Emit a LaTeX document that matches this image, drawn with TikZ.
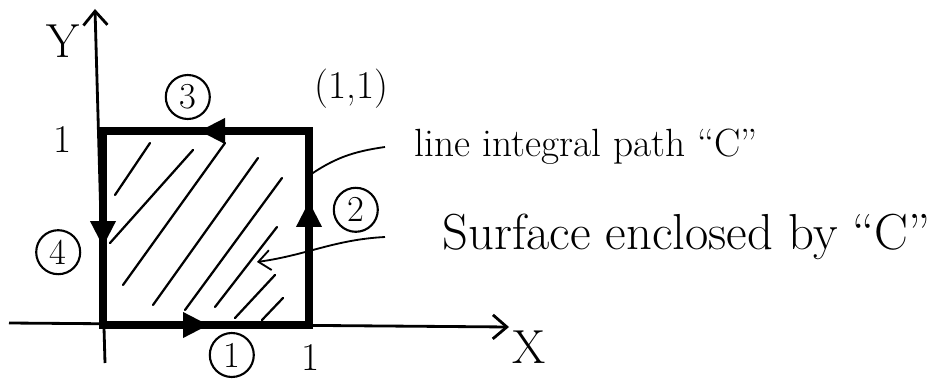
\documentclass[tikz,border=0pt]{standalone}
\usepackage{fontspec}
\usepackage{tikz}
\usetikzlibrary{arrows.meta,calc}

\begin{document}
\begin{tikzpicture}[
  axis/.style={line width=2pt, -{Straight Barb[length=3.5mm,width=6mm,line width=2pt]}},
  edge/.style={line width=5.5pt},
  edgearrow/.style={line width=5.5pt, -{Triangle[length=6.5mm,width=6mm]}},
  hatch/.style={line width=1.6pt, line cap=round},
  leader/.style={line width=1.3pt},
  lbl/.style={font=\fontsize{34}{38}\selectfont, inner sep=1pt},
  tick/.style={font=\fontsize{28}{32}\selectfont, inner sep=1pt},
  num/.style={draw, circle, line width=1.5pt, minimum size=11mm, inner sep=0pt, font=\fontsize{26}{30}\selectfont},
  note/.style={anchor=west, inner sep=1pt}
]
  \useasboundingbox (-2.575,-1.4) rectangle (21.075,8.125);
  % corners of the square
  \coordinate (O) at (0,0);
  \coordinate (A) at (5.15,0);
  \coordinate (B) at (5.15,4.85);
  \coordinate (D) at (0,4.85);
  % axes
  \coordinate (xs) at (-2.35,0.05);
  \coordinate (xe) at (10.15,-0.05);
  \coordinate (ys) at (0.05,-0.95);
  \coordinate (ye) at (-0.2,7.9);
  \draw[axis] (xs) -- (xe);
  \draw[axis] (ys) -- (ye);
  \node[lbl] (xlab) at (10.65,-0.55) {X};
  \node[lbl] (ylab) at (-1.0,7.1) {Y};
  \node[tick] (xone) at (5.2,-0.8) {1};
  \node[tick] (yone) at (-1.0,4.63) {1};
  \node[tick] (corner) at (6.22,5.92) {(1,1)};
  % hatching
  \foreach \xa/\ya/\xb/\yb in {0.3/3.25/1.175/4.55, 0.175/2.05/2.25/4.375, 0.5/1.0/3.05/4.55,
                     1.25/0.5/3.875/4.175, 2.05/0.375/4.475/3.675, 2.8/0.45/4.35/2.45,
                     3.3/0.175/4.3/1.25, 3.975/0.125/4.5/0.675}
    \draw[hatch] (\xa,\ya) -- (\xb,\yb);
  % path C
  \draw[edge, line join=miter] (O) -- (A) -- (B) -- (D) -- cycle;
  \coordinate (t1) at (2.65,0);
  \coordinate (t2) at (5.15,3.1);
  \coordinate (t3) at (2.4,4.85);
  \coordinate (t4) at (0,1.95);
  \draw[edgearrow] (O) -- (t1);
  \draw[edgearrow] (A) -- (t2);
  \draw[edgearrow] (B) -- (t3);
  \draw[edgearrow] (D) -- (t4);
  \node[num] (n1) at (3.22,-0.75) {1};
  \node[num] (n2) at (6.32,2.88) {2};
  \node[num] (n3) at (2.12,5.7) {3};
  \node[num] (n4) at (-1.12,1.82) {4};
  % notes
  \node[note, font=\fontsize{28}{32}\selectfont] (path) at (7.75,4.45) {line integral path ``C''};
  \node[note, font=\fontsize{36}{40}\selectfont] (surf) at (8.45,2.2) {Surface enclosed by ``C''};
  \coordinate (p1) at (5.1,3.7);
  \coordinate (p2) at (3.85,1.575);
  \draw[leader] ([xshift=-7mm]path.west) to[out=188,in=35] (p1);
  \draw[leader, -{Straight Barb[length=3mm,width=5mm]}] ([xshift=-14mm]surf.west) to[out=183,in=8] (p2);
\end{tikzpicture}
\end{document}
